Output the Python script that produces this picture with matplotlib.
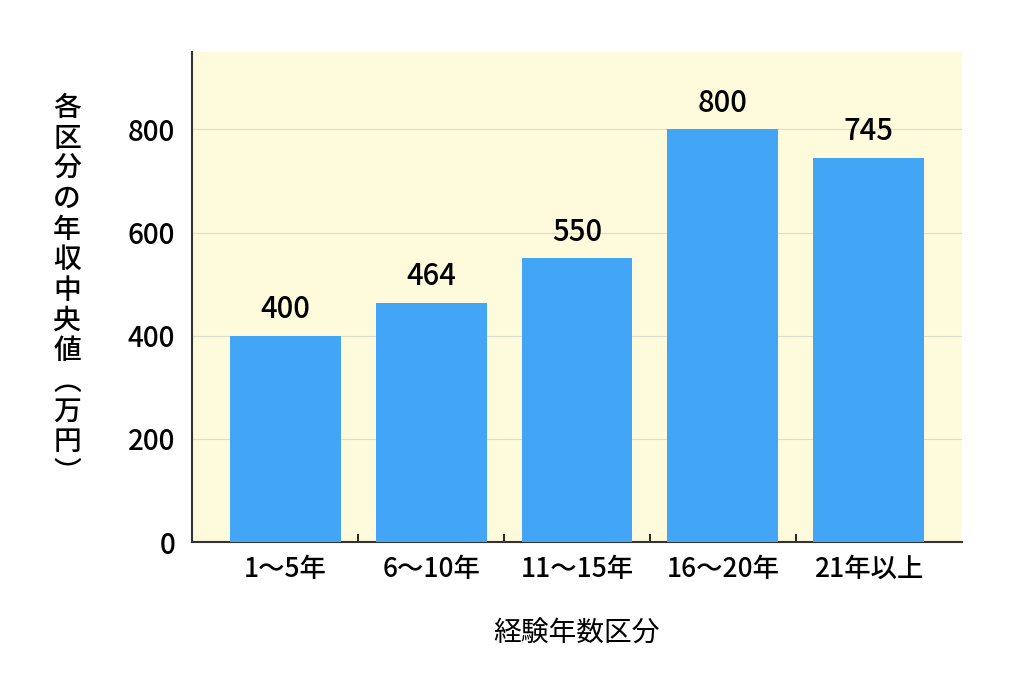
import matplotlib
matplotlib.use("Agg")
import matplotlib.pyplot as plt

plt.rcParams['font.family'] = ['Noto Sans CJK JP', 'DejaVu Sans']
plt.rcParams['font.weight'] = 'medium'

categories = ["1〜5年", "6〜10年", "11〜15年", "16〜20年", "21年以上"]
values = [400, 464, 550, 800, 745]

fig = plt.figure(figsize=(10.24, 6.82), dpi=100)
ax = fig.add_axes([192/1024, 1-542/682, (962-192)/1024, (542-52)/682])
ax.set_facecolor('#FEFADC')
x = list(range(len(categories)))
ax.bar(x, values, width=0.76, color='#42A5F5', zorder=3)
for xi, v in zip(x, values):
    ax.text(xi, v + 20, str(v), ha='center', va='bottom', fontsize=21, color='black', fontweight='medium')
ax.set_xlim(-0.64, len(categories) - 0.36)
ax.set_ylim(0, 950)
ax.set_yticks([0, 200, 400, 600, 800])
ax.tick_params(axis='y', labelsize=20, length=0, pad=12)
ax.set_xticks(x)
ax.set_xticklabels(categories, fontsize=19)
ax.tick_params(axis='x', length=0, pad=10)
ax.set_xticks([i + 0.5 for i in range(len(categories) - 1)], minor=True)
ax.tick_params(axis='x', which='minor', length=6, direction='in', width=1.2)
ax.grid(axis='y', color='#DDDDCC', linewidth=0.8, zorder=0)
for s in ['top', 'right']:
    ax.spines[s].set_visible(False)
for s in ['left', 'bottom']:
    ax.spines[s].set_linewidth(1.5)
    ax.spines[s].set_color('#333333')
ax.set_xlabel("経験年数区分", fontsize=20, labelpad=26)
fig.text(67/1024, 1 - 290/682, "\n".join("各区分の年収中央値︵万円︶"),
         ha='center', va='center', fontsize=20, linespacing=1.06, fontweight='medium')
fig.savefig("out.png", dpi=100)
